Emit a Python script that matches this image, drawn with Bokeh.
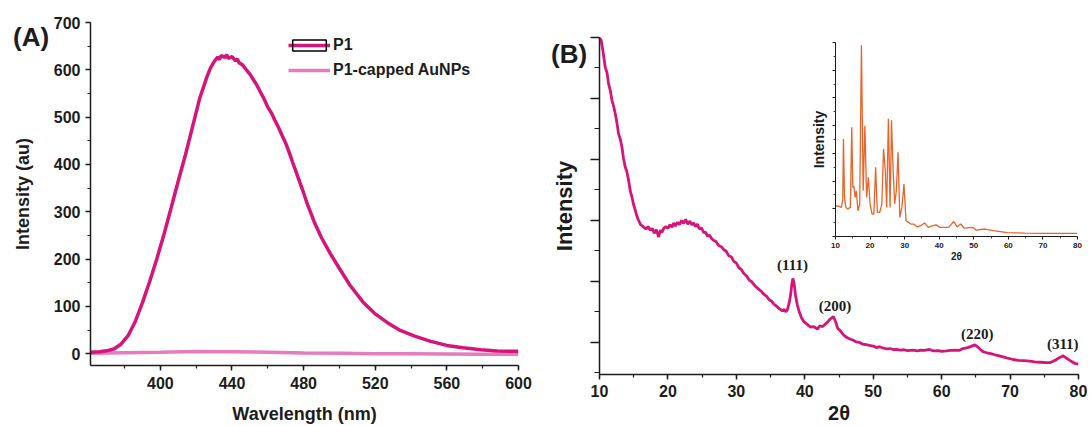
from bokeh.plotting import figure
from bokeh.models import (Range1d, Legend, LegendItem, SingleIntervalTicker,
                          CustomJSTickFormatter, Div)
from bokeh.core.properties import value
from bokeh.embed import file_html
from bokeh.resources import INLINE

# ---------------- Panel A: emission spectra ----------------
wavelength = [361, 366, 370, 374, 378, 382, 386, 390, 394, 398, 402, 406, 410, 414, 418,
              422, 426, 428, 430, 432, 433, 434, 436, 437, 438, 440, 442, 443, 444, 446,
              448, 450, 452, 454, 456, 458, 460, 462, 464, 466, 468, 470, 472, 474, 476,
              478, 480, 482, 486, 490, 495, 500, 506, 513, 520, 527, 534, 542, 551, 560,
              569, 579, 588, 600]
p1_intensity = [3, 4, 6, 10, 20, 38, 68, 108, 152, 200, 252, 308, 365, 420, 480,
                540, 585, 604, 617, 627, 622, 630, 626, 632, 624, 628, 619, 623, 615, 610,
                600, 591, 579, 567, 552, 538, 521, 509, 493, 478, 461, 445, 425, 403, 382,
                361, 340, 317, 278, 245, 211, 180, 144, 110, 84, 65, 49, 37, 26, 17.5,
                12.6, 8.4, 5.6, 4.9]
wavelength_au = [361, 380, 400, 420, 440, 460, 480, 500, 520, 540, 560, 580, 600]
aunp_intensity = [1, 2, 3, 4.5, 4, 3, 1.5, 1, 0, 0, -0.5, -1, -1]
series_labels = ["P1", "P1-capped AuNPs"]

# ---------------- Panel B: XRD ----------------
two_theta = [10.0, 10.25, 10.5, 10.83, 11.1, 11.32, 11.6, 11.82, 12.05, 12.3, 12.55, 12.78,
             13.0, 13.28, 13.5, 13.76, 14.0, 14.25, 14.5, 14.74, 15.0, 15.23, 15.5, 15.71,
             16.0, 16.44, 16.8, 17.1, 17.42, 17.7, 18.0, 18.3, 18.64, 18.9, 19.1, 19.37,
             19.7, 20.0, 20.3, 20.6, 20.84, 21.1, 21.4, 21.7, 22.0, 22.3, 22.6, 22.9, 23.2,
             23.5, 23.77, 24.0, 24.3, 24.6, 24.9, 25.23, 25.5, 25.8, 26.1, 26.4, 26.69,
             27.0, 27.4, 27.8, 28.16, 28.5, 28.9, 29.3, 29.62, 30.0, 30.4, 30.7, 31.09,
             31.5, 31.9, 32.2, 32.55, 32.9, 33.3, 33.7, 34.02, 34.4, 34.8, 35.1, 35.48,
             35.9, 36.3, 36.71, 37.0, 37.2, 37.44, 37.7, 37.93, 38.1, 38.26, 38.45, 38.66,
             38.9, 39.14, 39.5, 39.87, 40.3, 40.86, 41.3, 41.84, 42.2, 42.61, 43.0, 43.3,
             43.59, 43.9, 44.18, 44.5, 44.81, 45.2, 45.6, 46.03, 46.5, 47.0, 47.49, 48.0,
             48.5, 49.0, 49.45, 50.0, 50.5, 50.92, 51.5, 52.0, 52.5, 53.0, 53.35, 54.0,
             54.5, 55.0, 55.79, 56.5, 57.0, 57.5, 58.24, 58.8, 59.5, 60.0, 60.67, 61.3,
             62.0, 62.6, 63.12, 63.8, 64.3, 64.83, 65.3, 65.7, 66.04, 66.6, 67.2, 67.99,
             68.7, 69.5, 70.44, 71.2, 72.0, 72.88, 73.6, 74.4, 75.31, 75.9, 76.3, 76.78,
             77.2, 77.76, 78.2, 78.74, 79.1, 79.47, 80.0]
xrd_intensity = [6000, 5950, 5780, 5516, 5420, 5244, 5120, 4970, 4880, 4752, 4600, 4424,
                 4350, 4205, 4020, 3877, 3800, 3659, 3480, 3385, 3250, 3167, 3060, 3003,
                 2930, 2893, 2860, 2900, 2839, 2870, 2790, 2850, 2729, 2840, 2800, 2867,
                 2900, 2870, 2930, 2890, 2960, 2910, 2970, 2930, 3000, 2950, 3020, 2940, 2990,
                 2930, 2960, 2900, 2940, 2860, 2880, 2800, 2810, 2740, 2760, 2700, 2670,
                 2660, 2590, 2570, 2520, 2500, 2420, 2400, 2330, 2300, 2220, 2200, 2130,
                 2090, 2020, 2000, 1950, 1910, 1870, 1830, 1790, 1760, 1700, 1680, 1630,
                 1590, 1550, 1520, 1540, 1500, 1530, 1640, 1780, 1950, 2050, 1960, 1760,
                 1620, 1520, 1410, 1340, 1300, 1250, 1260, 1220, 1270, 1260, 1300, 1330,
                 1370, 1400, 1425, 1340, 1230, 1190, 1130, 1090, 1060, 1040, 1010, 1000,
                 970, 965, 950, 940, 915, 930, 905, 895, 900, 880, 885, 875,
                 880, 865, 872, 860, 875, 870, 885, 860, 865, 855, 861, 870,
                 875, 870, 900, 915, 935, 960, 925, 880, 850, 830, 815, 790,
                 770, 745, 720, 705, 700, 692, 680, 675, 668, 670, 690, 720,
                 750, 780, 745, 705, 680, 655, 645]
peak_labels = ["(111)", "(200)", "(220)", "(311)"]
peak_x = [38.2, 44.4, 65.2, 77.7]
peak_y = [2266, 1593, 1146, 982]

# ---------------- Inset: ligand XRD ----------------
inset_theta = [10.0, 11.0, 11.7, 12.1, 12.3, 12.6, 13.0, 13.5, 14.3, 14.7, 15.0, 15.3, 15.7,
               16.0, 16.5, 17.0, 17.5, 18.0, 18.5, 19.0, 19.5, 20.0, 20.6, 21.1, 21.6,
               22.1, 22.8, 23.4, 23.9, 24.4, 24.8, 25.3, 25.8, 26.2, 26.6, 27.1, 27.6,
               28.1, 28.6, 29.2, 29.8, 30.4, 31.1, 31.8, 32.6, 33.6, 34.6, 35.8, 36.8,
               38.1, 39.1, 40.2, 42.7, 44.2, 45.2, 46.2, 47.2, 49.7, 50.7, 53.2, 55.7,
               59.7, 64.8, 69.8, 77.8, 80.0]
inset_intensity = [111, 109, 105, 130, 352, 141, 105, 99, 105, 394, 177, 183, 141,
                   165, 93, 117, 690, 165, 400, 141, 214, 117, 81, 81, 250,
                   87, 87, 117, 316, 238, 105, 425, 105, 419, 262, 117, 165,
                   304, 69, 105, 189, 57, 51, 45, 45, 35, 39, 49, 33,
                   39, 42, 33, 33, 54, 35, 45, 30, 33, 23, 27, 21,
                   14, 12, 11, 11, 11]

SANS = "Liberation Sans"
SERIF = "Liberation Serif"
MAG = "#d6157a"
PINK = "#e57cbd"
ORANGE = "#e8642a"
INK = "#1c1c1c"


def place(left, top):
    return {"position": "absolute", "left": f"{left}px", "top": f"{top}px"}


def style_axis(ax, tick_size, label_size, major_out, minor_out, width=1.5):
    ax.axis_line_width = width
    ax.axis_line_color = INK
    ax.major_tick_line_color = INK
    ax.minor_tick_line_color = INK
    ax.major_tick_line_width = width
    ax.minor_tick_line_width = width * 0.8
    ax.major_tick_out = major_out
    ax.major_tick_in = 0
    ax.minor_tick_out = minor_out
    ax.minor_tick_in = 0
    ax.major_label_text_font = SANS
    ax.major_label_text_font_style = "bold"
    ax.major_label_text_font_size = tick_size
    ax.major_label_text_color = INK
    ax.axis_label_text_font = SANS
    ax.axis_label_text_font_style = "bold"
    ax.axis_label_text_font_size = label_size
    ax.axis_label_text_color = INK


def panel_tag(text, left, top):
    st = place(left, top)
    st.update({"font-family": SANS, "font-weight": "bold", "font-size": "26px",
               "line-height": "28px", "color": INK, "margin": "0", "padding": "0"})
    return Div(text=text, width=60, height=28, styles=st)


# ================= Panel A =================
pA = figure(width=540, height=426, x_range=Range1d(361, 600), y_range=Range1d(-25, 700),
            title=None, output_backend="svg", toolbar_location=None,
            min_border_left=90, min_border_right=22, min_border_top=22, min_border_bottom=59,
            styles=place(0, 0))
pA.outline_line_color = None
pA.xgrid.visible = False
pA.ygrid.visible = False
pA.xaxis.ticker = SingleIntervalTicker(interval=40, num_minor_ticks=2)
pA.yaxis.ticker = SingleIntervalTicker(interval=100, num_minor_ticks=2)
pA.xaxis.axis_label = "Wavelength (nm)"
pA.yaxis.axis_label = "Intensity (au)"
style_axis(pA.xaxis[0], "16px", "18px", 5, 3)
style_axis(pA.yaxis[0], "16px", "18px", 5, 3)
pA.xaxis.major_label_standoff = 6
pA.xaxis.axis_label_standoff = 12
pA.yaxis.major_label_standoff = 5
pA.yaxis.axis_label_standoff = 18

# zero-size outline used only as the framed legend swatch of P1
r_box = pA.rect(x=wavelength[:1], y=p1_intensity[:1], width=0, height=0, fill_alpha=0,
                line_color="black", line_width=1.5)
r_au = pA.line(wavelength_au, aunp_intensity, line_color=PINK, line_width=3.5)
r_p1 = pA.line(wavelength, p1_intensity, line_color=MAG, line_width=3.5)

legend = Legend(items=[LegendItem(label=series_labels[0], renderers=[r_p1, r_box]),
                       LegendItem(label=series_labels[1], renderers=[r_au])],
                location=(198, 286), padding=0, margin=0, spacing=7,
                glyph_width=42, glyph_height=14, label_standoff=3,
                border_line_color=None, background_fill_alpha=0,
                label_text_font=SANS, label_text_font_style="bold",
                label_text_font_size="16px", label_text_color=INK)
pA.add_layout(legend)

# ================= Panel B =================
pB = figure(width=552, height=426, x_range=Range1d(10, 80), y_range=Range1d(474, 6000),
            title=None, output_backend="svg", toolbar_location=None,
            min_border_left=59, min_border_right=14, min_border_top=37, min_border_bottom=52,
            styles=place(540, 0))
pB.outline_line_color = None
pB.xgrid.visible = False
pB.ygrid.visible = False
pB.xaxis.ticker = SingleIntervalTicker(interval=10, num_minor_ticks=2)
pB.yaxis.ticker = SingleIntervalTicker(interval=1000, num_minor_ticks=2)
pB.yaxis.formatter = CustomJSTickFormatter(code="return ''")
pB.xaxis.axis_label = "2θ"
pB.yaxis.axis_label = "Intensity"
style_axis(pB.xaxis[0], "16px", "20px", 5, 3)
style_axis(pB.yaxis[0], "16px", "22px", 9, 5)
pB.xaxis.major_label_standoff = 5
pB.xaxis.axis_label_standoff = 2
pB.yaxis.major_label_standoff = 0
pB.yaxis.axis_label_standoff = 14

pB.line(two_theta, xrd_intensity, line_color=MAG, line_width=2.8)
pB.text(x=peak_x, y=peak_y, text=peak_labels, text_font=value(SERIF),
        text_font_style="bold", text_font_size="15px", text_align="center",
        text_baseline="middle", text_color=INK)

# ================= Inset =================
inset = figure(width=280, height=229, x_range=Range1d(10, 80), y_range=Range1d(0, 700),
               title=None, output_backend="svg", toolbar_location=None,
               min_border_left=30, min_border_right=8, min_border_top=5, min_border_bottom=30,
               styles=place(805, 37))
inset.outline_line_color = None
inset.background_fill_alpha = 0
inset.border_fill_alpha = 0
inset.xgrid.visible = False
inset.ygrid.visible = False
inset.xaxis.ticker = SingleIntervalTicker(interval=10, num_minor_ticks=2)
inset.yaxis.ticker = SingleIntervalTicker(interval=100, num_minor_ticks=2)
inset.yaxis.formatter = CustomJSTickFormatter(code="return ''")
inset.xaxis.axis_label = "2θ"
inset.yaxis.axis_label = "Intensity"
style_axis(inset.xaxis[0], "8px", "10px", 3, 2, width=1)
style_axis(inset.yaxis[0], "8px", "14px", 3, 2, width=1)
inset.xaxis.major_label_standoff = 3
inset.xaxis.axis_label_standoff = 0
inset.yaxis.major_label_standoff = 0
inset.yaxis.axis_label_standoff = 6
inset.line(inset_theta, inset_intensity, line_color=ORANGE, line_width=1.3)

tag_a = panel_tag("(A)", 13, 23)
tag_b = panel_tag("(B)", 551, 40)

roots = [pA, pB, inset, tag_a, tag_b]
open("out.html", "w").write(file_html(roots, INLINE))
